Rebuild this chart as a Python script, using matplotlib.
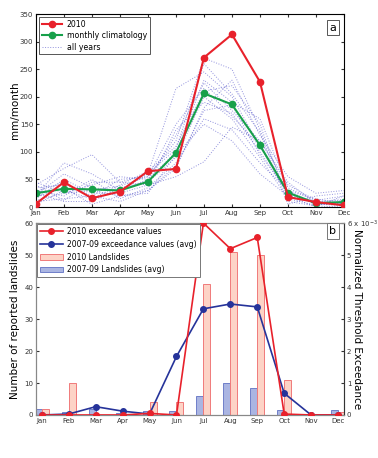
"""Monthly rainfall climatology and landslide / threshold exceedance chart."""

import matplotlib

matplotlib.use("Agg")
import matplotlib.pyplot as plt
from matplotlib.ticker import FuncFormatter
import numpy as np

# ---- data -------------------------------------------------------------
months = ["Jan", "Feb", "Mar", "Apr", "May", "Jun",
          "Jul", "Aug", "Sep", "Oct", "Nov", "Dec"]

rain_2010 = [6, 45, 16, 28, 65, 69, 271, 313, 227, 18, 9, 3]
rain_clim = [25, 33, 32, 30, 46, 98, 206, 186, 112, 26, 7, 9]

# individual years (dotted lines), read off roughly
rain_years = [
    [40, 70, 95, 45, 40, 55, 82, 145, 120, 40, 12, 20],
    [20, 80, 60, 30, 60, 215, 245, 200, 110, 30, 5, 10],
    [10, 15, 20, 50, 55, 120, 270, 250, 140, 20, 8, 5],
    [35, 40, 30, 20, 30, 70, 180, 230, 130, 55, 25, 30],
    [25, 10, 10, 35, 45, 90, 200, 160, 90, 15, 3, 8],
    [45, 25, 40, 55, 50, 100, 230, 190, 160, 35, 10, 12],
    [15, 50, 25, 25, 40, 140, 190, 170, 100, 25, 5, 3],
    [5, 30, 15, 40, 65, 110, 210, 220, 150, 10, 2, 20],
    [30, 20, 50, 15, 35, 80, 160, 140, 80, 30, 15, 5],
    [22, 60, 35, 30, 50, 130, 225, 175, 120, 45, 6, 10],
    [18, 35, 5, 20, 25, 95, 150, 120, 60, 20, 0, 2],
    [40, 12, 45, 45, 60, 105, 260, 205, 135, 5, 20, 25],
    [28, 45, 20, 10, 30, 75, 175, 185, 95, 28, 4, 6],
    [12, 25, 30, 38, 55, 150, 215, 165, 110, 22, 9, 14],
]

slides_2010 = [2, 10, 0, 0, 4, 4, 41, 51, 50, 11, 0, 1]
slides_avg = [2, 1, 2, 0.7, 1.3, 1.3, 6, 10, 8.5, 1.7, 0, 1.7]

exceed_2010 = [0, 0, 0, 0, 0.05e-3, 0, 6.0e-3, 5.2e-3, 5.55e-3, 0.03e-3, 0, 0]
exceed_avg = [0, 0.03e-3, 0.26e-3, 0.12e-3, 0.03e-3, 1.83e-3,
              3.32e-3, 3.47e-3, 3.38e-3, 0.68e-3, 0, 0]

# ---- style ------------------------------------------------------------
RED = "#e8212b"
GREEN = "#17a04a"
NAVY = "#26339a"
DOTS = "#5a5acc"
PINK_FILL = "#fdd3c6"
PINK_EDGE = "#f07a7a"
BLUE_FILL = "#aab5e2"
BLUE_EDGE = "#6f7fc9"

plt.rcParams["font.family"] = ["DejaVu Sans"]
plt.rcParams["axes.linewidth"] = 0.8

x = np.arange(1, 13)

fig = plt.figure(figsize=(3.78, 4.58), dpi=100)

# ---- panel a ----------------------------------------------------------
ax1 = fig.add_axes([0.095, 0.548, 0.815, 0.4214])
for i, yr in enumerate(rain_years):
    ax1.plot(x, yr, color=DOTS, linestyle=":", linewidth=0.7, alpha=0.65,
             label="all years" if i == 0 else None, zorder=1)
ax1.plot(x, rain_2010, color=RED, linewidth=1.5, marker="o", markersize=4.5,
         label="2010", zorder=3)
ax1.plot(x, rain_clim, color=GREEN, linewidth=1.5, marker="o", markersize=4.5,
         label="monthly climatology", zorder=2)

ax1.set_xlim(1, 12)
ax1.set_ylim(0, 350)
ax1.set_xticks(x)
ax1.set_xticklabels(months)
ax1.set_yticks(np.arange(0, 351, 50))
ax1.tick_params(direction="in", labelsize=5, length=2.5, top=True, right=True,
                colors="#333333", pad=2)
ax1.set_ylabel("mm/month", fontsize=7.5)
ax1.yaxis.set_label_coords(-0.052, 0.5)

handles, labels = ax1.get_legend_handles_labels()
order = [labels.index("2010"), labels.index("monthly climatology"),
         labels.index("all years")]
leg1 = ax1.legend([handles[i] for i in order], [labels[i] for i in order],
                  loc="upper left", fontsize=5.6, fancybox=False,
                  edgecolor="#555555", framealpha=1, borderaxespad=0.4,
                  handlelength=2.6, handletextpad=0.6, labelspacing=0.3,
                  borderpad=0.35)
leg1.get_frame().set_linewidth(0.7)

ax1.text(0.975, 0.955, "a", transform=ax1.transAxes, ha="right", va="top",
         fontsize=8,
         bbox=dict(boxstyle="square,pad=0.25", fc="white", ec="#555555",
                   lw=0.7))

# ---- panel b ----------------------------------------------------------
ax2 = fig.add_axes([0.095, 0.0939, 0.815, 0.419])
w = 0.26
ax2.bar(x - w / 2, slides_avg, width=w, color=BLUE_FILL, edgecolor=BLUE_EDGE,
        linewidth=0.7, label="2007-09 Landslides (avg)")
ax2.bar(x + w / 2, slides_2010, width=w, color=PINK_FILL, edgecolor=PINK_EDGE,
        linewidth=0.7, label="2010 Landslides")
ax2.set_xlim(0.78, 12.22)
ax2.set_ylim(0, 60)
ax2.set_xticks(x)
ax2.set_xticklabels(months)
ax2.set_yticks(np.arange(0, 61, 10))
ax2.tick_params(direction="in", labelsize=5, length=2.5, colors="#333333",
                pad=2)
ax2.tick_params(axis="x", length=0)
ax2.set_ylabel("Number of reported landslides", fontsize=7.5)
ax2.yaxis.set_label_coords(-0.052, 0.5)
for s in ax2.spines.values():
    s.set_color("#888888")

ax3 = ax2.twinx()
ax3.plot(x, exceed_2010, color=RED, linewidth=1.2, marker="o", markersize=4,
         label="2010 exceedance values", zorder=3)
ax3.plot(x, exceed_avg, color=NAVY, linewidth=1.2, marker="o", markersize=4,
         label="2007-09 exceedance values (avg)", zorder=2)
ax3.set_ylim(0, 6e-3)
ax3.set_yticks(np.arange(0, 6.01e-3, 1e-3))


def exceed_fmt(v, pos):
    n = int(round(v * 1e3))
    if n == 6:
        return r"6 x 10$^{-3}$"
    return str(n)


ax3.yaxis.set_major_formatter(FuncFormatter(exceed_fmt))
ax3.tick_params(direction="in", labelsize=5, length=2.5, colors="#333333",
                pad=2)
ax3.set_ylabel("Normalized Threshold Exceedance", fontsize=7.5, rotation=270,
               va="center")
ax3.yaxis.set_label_coords(1.042, 0.5)
for s in ax3.spines.values():
    s.set_color("#888888")
ax3.spines["right"].set_color("#333333")

h_lines, l_lines = ax3.get_legend_handles_labels()
h_bars, l_bars = ax2.get_legend_handles_labels()
leg2 = ax3.legend(h_lines + [h_bars[1], h_bars[0]],
                  l_lines + [l_bars[1], l_bars[0]],
                  loc="upper left", fontsize=5.5, fancybox=False,
                  edgecolor="#777777", framealpha=1, borderaxespad=0.15,
                  handlelength=3.0, handletextpad=0.6, labelspacing=0.5,
                  borderpad=0.35)
leg2.get_frame().set_linewidth(0.7)

ax3.text(0.975, 0.985, "b", transform=ax3.transAxes, ha="right", va="top",
         fontsize=8,
         bbox=dict(boxstyle="square,pad=0.25", fc="white", ec="#777777",
                   lw=0.7))

fig.savefig("out.png", dpi=100)
